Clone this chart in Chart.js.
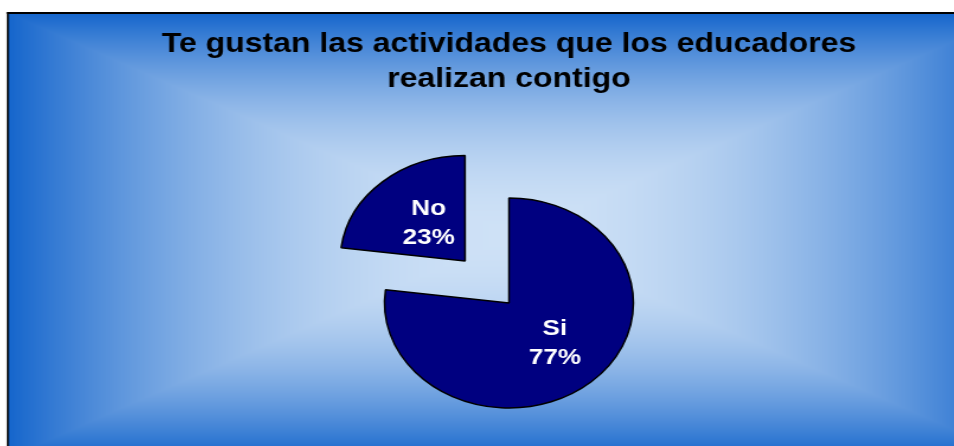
<!DOCTYPE html>
<html><head><meta charset="utf-8">
<script src="https://cdn.jsdelivr.net/npm/chart.js@4.4.1/dist/chart.umd.min.js"></script>
<style>
html,body{margin:0;padding:0;background:#fff;overflow:hidden;width:954px;height:446px;}
#wrap{position:absolute;left:0;top:0;width:866px;height:470px;transform:scaleX(1.185);transform-origin:0 0;}
</style></head><body>
<div id="wrap"><canvas id="c"></canvas></div>
<script>
// ---- data ----
const categories = ['Si', 'No'];
const values = [77, 23];
const explodeOffsets = [0, 224];
const titleLines = ['Te gustan las actividades que los educadores', 'realizan contigo'];

const FONT = 'Arial, "Liberation Sans", sans-serif';

const bgPlugin = {
  id: 'bgFrame',
  beforeDraw(chart) {
    const ctx = chart.ctx, W = chart.width, H = chart.height;
    ctx.save();
    ctx.fillStyle = '#ffffff';
    ctx.fillRect(0, 0, W, H);
    const fx = 7.45, fy = 14, fw = W - 2 * fx, fh = 457 - fy;
    const ow = Math.ceil(fw), oh = Math.ceil(fh);
    const off = document.createElement('canvas');
    off.width = ow; off.height = oh;
    const octx = off.getContext('2d');
    const img = octx.createImageData(ow, oh);
    const cx = ow / 2, cy = oh / 2;
    const edge = [22, 102, 204], center = [206, 225, 246];
    for (let j = 0; j < oh; j++) {
      for (let i = 0; i < ow; i++) {
        const t = Math.min(1, Math.max(Math.abs(i + 0.5 - cx) / cx, Math.abs(j + 0.5 - cy) / cy));
        const s = 1 - Math.pow(t, 2);
        const k = (j * ow + i) * 4;
        img.data[k] = edge[0] + (center[0] - edge[0]) * s;
        img.data[k + 1] = edge[1] + (center[1] - edge[1]) * s;
        img.data[k + 2] = edge[2] + (center[2] - edge[2]) * s;
        img.data[k + 3] = 255;
      }
    }
    octx.putImageData(img, 0, 0);
    ctx.drawImage(off, fx, fy, fw, fh);
    ctx.fillStyle = '#000';
    ctx.fillRect(5.75, 12, 1.7, 446);       // left border
    ctx.fillRect(5.75, 12, W - 11.5, 2);    // top border
    ctx.fillRect(W - 7.45, 12, 1.7, 446);   // right border (off-screen)
    ctx.fillRect(5.75, 457, W - 11.5, 2);   // bottom border (off-screen)
    ctx.restore();
  }
};

const labelPlugin = {
  id: 'sliceLabels',
  afterDatasetsDraw(chart) {
    const ctx = chart.ctx;
    const meta = chart.getDatasetMeta(0);
    const total = values.reduce((a, b) => a + b, 0);
    ctx.save();
    ctx.fillStyle = '#ffffff';
    ctx.font = 'bold 22px ' + FONT;
    ctx.textAlign = 'center';
    ctx.textBaseline = 'alphabetic';
    meta.data.forEach((arc, i) => {
      const p = arc.getProps(['x', 'y', 'startAngle', 'endAngle', 'outerRadius']);
      const mid = (p.startAngle + p.endAngle) / 2;
      const shift = (arc.options.offset || 0) / 4;
      const d = shift + p.outerRadius * 0.5;
      const ax = p.x + Math.cos(mid) * d + 4;
      const ay = p.y + Math.sin(mid) * d;
      const pct = Math.round(values[i] / total * 100) + '%';
      ctx.fillText(categories[i], ax, ay - 7);
      ctx.fillText(pct, ax, ay + 22);
    });
    ctx.restore();
  }
};

new Chart(document.getElementById('c'), {
  type: 'pie',
  data: {
    labels: categories,
    datasets: [{
      data: values,
      backgroundColor: '#000080',
      borderColor: '#000000',
      borderWidth: 1.5,
      offset: explodeOffsets,
      hoverOffset: 0
    }]
  },
  options: {
    responsive: true,
    maintainAspectRatio: false,
    animation: false,
    radius: 105,
    layout: { padding: { left: 0, right: 7, top: 0, bottom: 24 } },
    plugins: {
      legend: { display: false },
      tooltip: { enabled: false },
      title: {
        display: true,
        text: titleLines,
        color: '#000000',
        font: { family: FONT, size: 27, weight: 'bold', lineHeight: 1.3 },
        padding: { top: 26.5, bottom: 63.3 }
      }
    },
    events: []
  },
  plugins: [bgPlugin, labelPlugin]
});
</script>
</body></html>
